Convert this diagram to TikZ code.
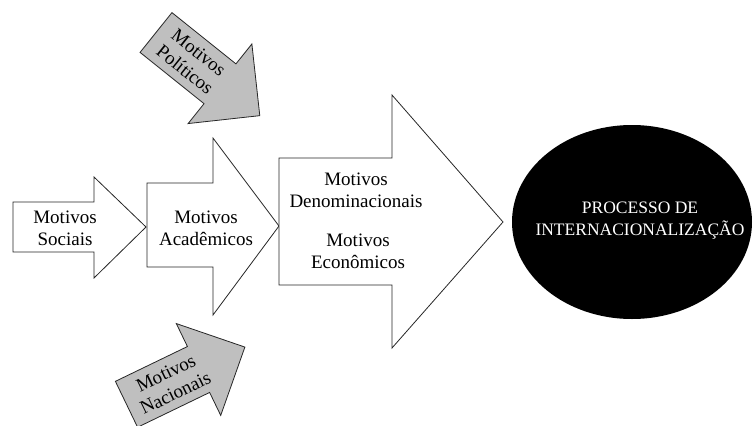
\documentclass[tikz,border=0pt]{standalone}
\usepackage{fontspec}
\setmainfont{Liberation Serif}
\begin{document}
\begin{tikzpicture}[x=1pt,y=-1pt,
  arrowshape/.style={draw=black!85,line width=0.8pt,line join=miter,fill=white},
  grayarrow/.style={arrowshape,fill=black!25},
  lbl/.style={align=center,font=\fontsize{19}{22}\selectfont,inner sep=0pt},
  ellbl/.style={align=center,font=\fontsize{17.5}{22}\selectfont,text=white,inner sep=0pt}]
\useasboundingbox (0,0) rectangle (753,426);
% Arrow 1: Motivos Sociais
\draw[arrowshape] (13,202) -- (94,202) -- (94,177) -- (146,227) -- (94,278) -- (94,252) -- (13,252) -- cycle;
\node[lbl] (sociais) at (65,228) {Motivos\\Sociais};
% Arrow 2: Motivos Acadêmicos
\draw[arrowshape] (147,183) -- (213,183) -- (213,138) -- (279,226) -- (213,315) -- (213,267) -- (147,267) -- cycle;
\node[lbl] (academicos) at (206,228) {Motivos\\Acadêmicos};
% Arrow 3: big
\draw[arrowshape] (279,158) -- (392,158) -- (392,95) -- (503,222) -- (392,348) -- (392,285) -- (279,285) -- cycle;
\node[lbl] (denom) at (356,190) {Motivos\\Denominacionais};
\node[lbl] (econ) at (358,251) {Motivos\\Econômicos};
% Ellipse
\fill[black] (632,222) ellipse [x radius=120, y radius=97];
\node[ellbl] (proc) at (640,221) {PROCESSO DE\\INTERNACIONALIZAÇÃO};
% Motivos Politicos (rotated)
\begin{scope}[shift={(156,32.5)},rotate=-38.7]
\draw[grayarrow] (0,-25.5) -- (82,-25.5) -- (82,-51) -- (133,0) -- (82,51) -- (82,25.5) -- (0,25.5) -- cycle;
\node[lbl,rotate=-38.7] (politicos) at (46,0) {Motivos\\Políticos};
\end{scope}
% Motivos Nacionais (rotated)
\begin{scope}[shift={(126.5,404.3)},rotate=25.8]
\draw[grayarrow] (0,-25.5) -- (80,-25.5) -- (80,-51) -- (131.5,0) -- (80,51) -- (80,25.5) -- (0,25.5) -- cycle;
\node[lbl,rotate=25.8] (nacionais) at (49,0) {Motivos\\Nacionais};
\end{scope}
\end{tikzpicture}
\end{document}
